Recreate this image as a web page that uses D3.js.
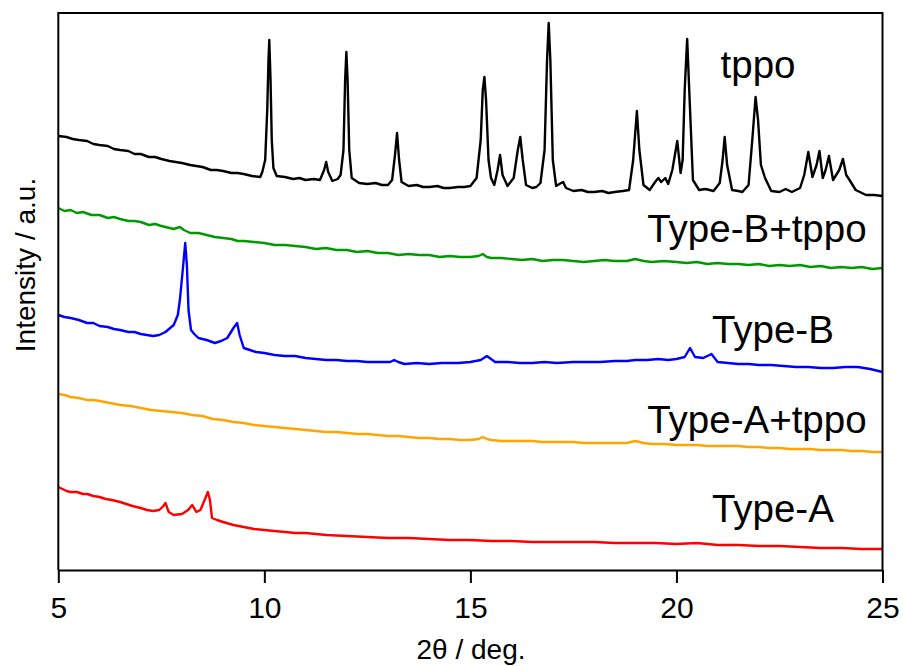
<!DOCTYPE html>
<html>
<head>
<meta charset="utf-8">
<script src="https://cdn.jsdelivr.net/npm/d3@7"></script>
<style>
  html, body { margin: 0; padding: 0; background: #fff; }
  svg { display: block; font-family: "Liberation Sans", Arial, sans-serif; }
</style>
</head>
<body>
<svg id="chart" width="903" height="666"></svg>
<script>
// Powder XRD patterns, stacked with vertical offsets (intensity in a.u.)
// Each point: [2θ in degrees, offset intensity]
const tppo = [
  [5.0,434],[5.2,433],[5.35,431],[5.5,430],[5.7,429],[5.85,426],[6.0,425],[6.2,424],[6.35,421],[6.5,420],
  [6.7,419],[6.85,416],[7.0,416],[7.2,413],[7.35,413],[7.5,411],[7.7,409],[7.85,408],[8.0,407],[8.2,405],
  [8.35,404],[8.5,403],[8.7,400],[8.85,400],[9.0,399],[9.2,397],[9.35,397],[9.5,396],[9.7,394],[9.9,393],
  [9.95,398],[10.02,410],[10.07,460],[10.1,510],[10.12,530],[10.15,490],[10.18,430],[10.22,402],[10.3,394],
  [10.5,393],[10.7,391],[10.85,392],[11.0,390],[11.2,391],[11.35,390],[11.45,400],[11.5,408],[11.55,398],
  [11.65,389],[11.78,391],[11.85,395],[11.92,420],[11.96,490],[11.99,518],[12.02,490],[12.06,420],[12.12,392],
  [12.3,387],[12.5,386],[12.7,387],[12.85,385],[13.0,385],[13.1,390],[13.17,415],[13.22,437],[13.27,410],
  [13.33,388],[13.5,384],[13.7,385],[13.85,383],[14.0,383],[14.2,384],[14.35,382],[14.5,382],[14.7,383],
  [14.85,383],[15.0,384],[15.15,392],[15.25,430],[15.3,480],[15.34,493],[15.38,470],[15.44,410],[15.5,392],
  [15.58,385],[15.66,400],[15.72,415],[15.78,395],[15.9,384],[16.05,392],[16.15,420],[16.21,433],[16.27,410],
  [16.35,385],[16.5,382],[16.6,383],[16.7,387],[16.8,420],[16.86,510],[16.9,547],[16.94,510],[17.0,410],
  [17.08,384],[17.2,387],[17.25,388],[17.32,382],[17.5,379],[17.7,380],[17.85,378],[18.0,378],[18.2,379],
  [18.35,377],[18.5,378],[18.7,379],[18.85,380],[18.95,410],[19.04,459],[19.1,420],[19.2,385],[19.35,380],
  [19.5,389],[19.56,392],[19.63,388],[19.73,392],[19.8,386],[19.9,400],[20.02,429],[20.1,397],[20.15,410],
  [20.2,480],[20.26,531],[20.32,470],[20.4,390],[20.55,380],[20.7,381],[20.9,379],[21.05,387],[21.12,410],
  [21.17,433],[21.23,405],[21.35,380],[21.5,379],[21.6,378],[21.75,385],[21.84,430],[21.92,473],[21.98,450],
  [22.05,405],[22.15,392],[22.3,379],[22.5,378],[22.65,381],[22.8,378],[23.0,382],[23.1,395],[23.2,418],
  [23.3,393],[23.4,405],[23.47,419],[23.55,392],[23.62,400],[23.7,414],[23.8,390],[23.95,400],[24.04,411],
  [24.12,395],[24.2,390],[24.35,380],[24.6,375],[24.8,375],[25.0,374]
];

const typeBtppo = [
  [5.0,362],[5.15,359],[5.3,360],[5.45,357],[5.6,358],[5.8,355],[6.0,355],[6.2,352],[6.35,353],[6.5,351],
  [6.7,349],[6.85,349],[7.0,348],[7.2,345],[7.35,346],[7.5,344],[7.7,342],[7.8,341],[7.95,343],[8.05,340],
  [8.2,337],[8.4,337],[8.6,335],[8.8,333],[9.0,332],[9.2,331],[9.35,329],[9.5,329],[9.75,328],[10.0,327],
  [10.25,325],[10.5,325],[10.75,324],[11.0,323],[11.25,321],[11.5,322],[11.75,320],[12.0,320],[12.25,318],
  [12.5,319],[12.75,317],[13.0,317],[13.25,315],[13.5,316],[13.75,315],[14.0,315],[14.25,313],[14.5,314],
  [14.75,313],[15.0,313],[15.2,314],[15.3,316],[15.4,313],[15.5,312],[15.75,312],[16.0,311],[16.25,310],
  [16.5,311],[16.75,309],[17.0,310],[17.25,310],[17.5,309],[17.75,308],[18.0,309],[18.25,310],[18.5,309],
  [18.8,309],[19.0,311],[19.2,309],[19.4,308],[19.7,309],[20.0,308],[20.25,307],[20.5,308],[20.75,306],
  [21.0,307],[21.25,306],[21.5,306],[21.75,305],[22.0,306],[22.25,304],[22.5,305],[22.75,304],[23.0,305],
  [23.25,303],[23.5,304],[23.75,302],[24.0,303],[24.25,302],[24.5,303],[24.75,301],[25.0,302]
];

const typeB = [
  [5.0,255],[5.15,253],[5.3,252],[5.5,250],[5.7,247],[5.85,247],[6.0,244],[6.2,243],[6.35,241],[6.5,240],
  [6.7,238],[6.85,238],[7.0,236],[7.15,235],[7.3,234],[7.45,235],[7.6,238],[7.8,245],[7.9,255],[7.95,270],
  [8.02,300],[8.08,327],[8.12,305],[8.16,260],[8.22,240],[8.3,236],[8.4,232],[8.6,230],[8.8,227],[8.95,229],
  [9.1,232],[9.25,242],[9.34,247],[9.4,235],[9.5,222],[9.65,220],[9.8,218],[10.0,217],[10.25,215],[10.5,214],
  [10.75,214],[11.0,212],[11.25,211],[11.5,210],[11.75,210],[12.0,209],[12.25,209],[12.5,208],[12.8,208],
  [13.05,208],[13.15,210],[13.25,208],[13.4,206],[13.7,207],[14.0,206],[14.3,207],[14.7,207],[15.0,208],
  [15.25,210],[15.4,214],[15.5,211],[15.6,208],[15.9,208],[16.2,207],[16.5,207],[16.8,208],[17.1,207],
  [17.5,208],[17.8,208],[18.15,208],[18.5,209],[18.8,209],[19.0,210],[19.3,210],[19.55,211],[19.8,210],
  [20.0,211],[20.2,213],[20.33,222],[20.45,213],[20.65,212],[20.85,216],[21.0,208],[21.25,207],[21.5,206],
  [21.75,206],[22.0,205],[22.3,205],[22.6,204],[22.9,203],[23.2,203],[23.5,202],[23.8,202],[24.1,203],
  [24.4,203],[24.7,201],[25.0,198]
];

const typeAtppo = [
  [5.0,176],[5.15,175],[5.3,173],[5.5,172],[5.7,170],[5.85,170],[6.0,169],[6.25,167],[6.5,165],[6.75,164],
  [7.0,162],[7.25,160],[7.5,159],[7.75,158],[8.0,157],[8.25,155],[8.5,154],[8.75,151],[9.0,150],[9.25,148],
  [9.5,147],[9.75,145],[10.0,144],[10.25,143],[10.5,142],[10.75,141],[11.0,140],[11.25,139],[11.5,138],
  [11.75,138],[12.0,137],[12.25,136],[12.5,136],[12.75,135],[13.0,134],[13.25,134],[13.5,133],[13.75,132],
  [14.0,132],[14.25,131],[14.5,131],[14.75,130],[15.0,130],[15.2,131],[15.3,133],[15.4,131],[15.5,130],
  [15.75,129],[16.0,129],[16.25,129],[16.5,129],[16.75,128],[17.0,128],[17.25,128],[17.5,128],[17.75,127],
  [18.0,127],[18.25,127],[18.5,127],[18.8,127],[19.0,129],[19.2,127],[19.4,126],[19.7,126],[20.0,125],
  [20.25,125],[20.5,125],[20.75,124],[21.0,124],[21.25,124],[21.5,124],[21.75,123],[22.0,123],[22.25,122],
  [22.5,122],[22.75,121],[23.0,121],[23.25,121],[23.5,120],[23.75,120],[24.0,120],[24.25,119],[24.5,119],
  [24.75,118],[25.0,118]
];

const typeA = [
  [5.0,83],[5.1,81],[5.2,79],[5.3,78],[5.45,78],[5.6,76],[5.7,76],[5.85,74],[6.0,73],[6.15,71],[6.3,70],
  [6.5,68],[6.65,66],[6.8,64],[7.0,62],[7.15,60],[7.3,59],[7.45,60],[7.55,64],[7.6,67],[7.68,58],[7.8,55],
  [8.0,56],[8.15,60],[8.25,65],[8.35,58],[8.45,60],[8.55,70],[8.63,78],[8.68,70],[8.73,52],[8.85,50],
  [9.0,48],[9.25,45],[9.5,43],[9.75,41],[10.0,40],[10.25,39],[10.5,38],[10.75,37],[11.0,37],[11.5,35],
  [12.0,34],[12.5,33],[13.0,32],[13.5,32],[14.0,31],[14.5,30],[15.0,30],[15.5,29],[16.0,29],[16.5,28],
  [17.0,28],[17.5,28],[18.0,28],[18.5,27],[19.0,27],[19.5,27],[20.0,26],[20.5,27],[21.0,25],[21.5,25],
  [22.0,24],[22.5,24],[23.0,23],[23.5,22],[24.0,22],[24.5,21],[25.0,21]
];

const seriesNames  = ["tppo", "Type-B+tppo", "Type-B", "Type-A+tppo", "Type-A"];
const seriesData   = [tppo, typeBtppo, typeB, typeAtppo, typeA];
const seriesColors = ["#000000", "#009900", "#0000ff", "#ffa500", "#ff0000"];
// label anchor: [2θ, intensity] where each name starts (left end of baseline)
const labelAnchors = [[21.07, 492], [19.29, 328], [20.86, 227], [19.29, 137], [20.86, 48]];

const xTicks = [5, 10, 15, 20, 25];
const xLabel = "2θ / deg.";
const yLabel = "Intensity / a.u.";

const svg = d3.select("#chart");
const plot = { left: 58.3, right: 882.5, top: 13, bottom: 570 };

const x = d3.scaleLinear().domain([5, 25]).range([plot.left, plot.right]);
const y = d3.scaleLinear().domain([0, 557]).range([plot.bottom, plot.top]);

const line = d3.line().x(d => x(d[0])).y(d => y(d[1]));

// traces
seriesData.forEach((data, i) => {
  svg.append("path")
    .datum(data)
    .attr("fill", "none")
    .attr("stroke", seriesColors[i])
    .attr("stroke-width", 2.4)
    .attr("stroke-linejoin", "round")
    .attr("d", line);
});

// series names
svg.append("g").selectAll("text")
  .data(seriesNames)
  .join("text")
  .attr("x", (d, i) => x(labelAnchors[i][0]))
  .attr("y", (d, i) => y(labelAnchors[i][1]))
  .attr("font-size", 38.5)
  .attr("fill", "#000")
  .text(d => d);

// frame: left, top, right
svg.append("path")
  .attr("d", `M${plot.left},${plot.bottom}V${plot.top}H${plot.right}V${plot.bottom}`)
  .attr("fill", "none")
  .attr("stroke", "#000")
  .attr("stroke-width", 2);

// bottom axis
const xAxis = d3.axisBottom(x).tickValues(xTicks).tickSize(13).tickSizeOuter(0).tickPadding(14);
const gx = svg.append("g")
  .attr("transform", `translate(0,${plot.bottom})`)
  .call(xAxis);
gx.select(".domain").attr("stroke-width", 2);
gx.selectAll(".tick line").attr("stroke-width", 2);
gx.selectAll(".tick text")
  .attr("font-size", 30)
  .attr("font-family", "Liberation Sans, Arial, sans-serif")
  .attr("fill", "#000");

// axis titles
svg.append("text")
  .attr("x", 471)
  .attr("y", 659)
  .attr("text-anchor", "middle")
  .attr("font-size", 28)
  .attr("fill", "#000")
  .text(xLabel);

svg.append("text")
  .attr("transform", "translate(35,265) rotate(-90)")
  .attr("text-anchor", "middle")
  .attr("font-size", 28)
  .attr("fill", "#000")
  .text(yLabel);
</script>
</body>
</html>
